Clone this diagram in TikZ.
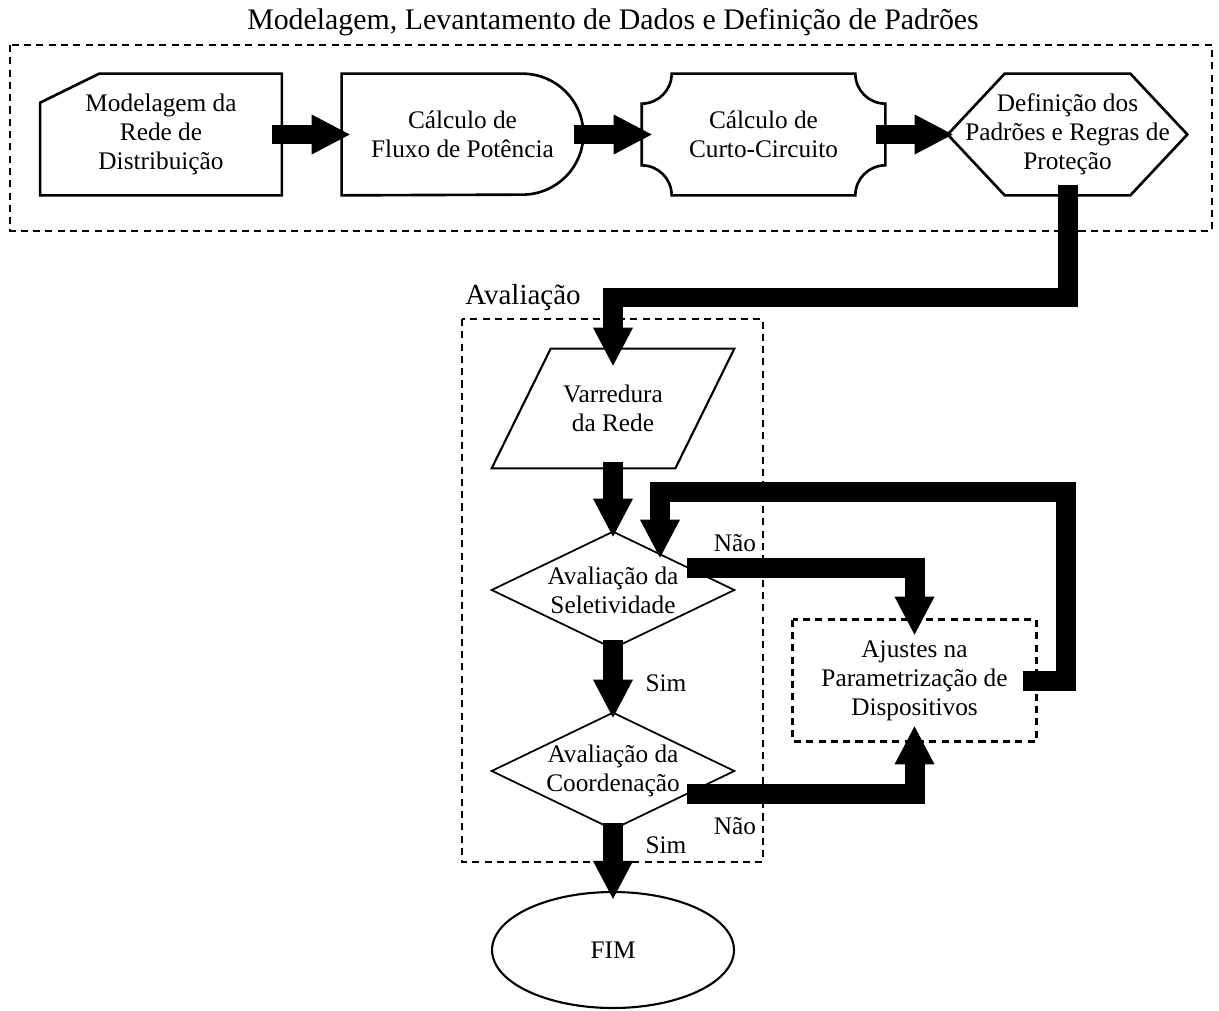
\documentclass[tikz,border=0pt]{standalone}
\usepackage{fontspec}
\setmainfont{Liberation Serif}
\usetikzlibrary{arrows.meta,shapes.geometric,positioning}

\tikzset{
    texto/.style={align=center, font=\fontsize{14.4}{16.5}\selectfont, inner sep=0pt},
    contorno/.style={draw, line width=1.5pt, line join=miter},
    fino/.style={draw, line width=1pt},
    grupo/.style={draw, line width=1.6pt, dash pattern=on 4pt off 3pt},
    setagrossa/.style={line width=0.4cm, -{Triangle[length=0.76cm,width=0.8cm,line width=0pt]}},
    rotulo/.style={font=\fontsize{14.4}{16.5}\selectfont, inner sep=0pt},
}

\begin{document}
\begin{tikzpicture}[x=0.02cm, y=-0.02cm]
    \useasboundingbox (0,0) rectangle (1219,1010);

    % Grupo: modelagem e levantamento de dados
    \node[font=\fontsize{17}{20}\selectfont] (titulo) at (613,22) {Modelagem, Levantamento de Dados e Definição de Padrões};
    \draw[grupo] (10,45) rectangle (1212,231);

    \node[texto, minimum width=4.82cm, minimum height=2.42cm] (modelo) at (161,134.5) {Modelagem da\\Rede de\\Distribuição};
    \draw[contorno] ([yshift=-0.58cm]modelo.north west) -- ([xshift=1.18cm]modelo.north west) -- (modelo.north east)
        -- (modelo.south east) -- (modelo.south west) -- cycle;

    \node[texto, minimum width=4.82cm, minimum height=2.42cm] (fluxo) at (462.5,134.5) {Cálculo de\\Fluxo de Potência};
    \draw[contorno] (fluxo.north west) -- ([xshift=-1.22cm]fluxo.north east)
        arc[start angle=90, end angle=-90, x radius=1.22cm, y radius=1.21cm] -- (fluxo.south west) -- cycle;

    \node[texto, minimum width=4.86cm, minimum height=2.42cm] (curto) at (763.5,134.5) {Cálculo de\\Curto-Circuito};
    \draw[contorno] ([xshift=0.6cm]curto.north west) -- ([xshift=-0.6cm]curto.north east) arc (180:270:0.6cm)
        -- ([yshift=0.6cm]curto.south east) arc (90:180:0.6cm)
        -- ([xshift=0.6cm]curto.south west) arc (0:90:0.6cm)
        -- ([yshift=-0.6cm]curto.north west) arc (270:360:0.6cm) -- cycle;

    \node[texto, minimum width=4.78cm, minimum height=2.42cm] (regras) at (1067.5,134.5) {Definição dos\\Padrões e Regras de\\Proteção};
    \draw[contorno] (regras.west) -- ([xshift=1.14cm]regras.north west) -- ([xshift=-1.14cm]regras.north east)
        -- (regras.east) -- ([xshift=-1.14cm]regras.south east) -- ([xshift=1.14cm]regras.south west) -- cycle;

    \draw[setagrossa] ([xshift=-0.2cm]modelo.east) -- ([xshift=0.16cm]fluxo.west);
    \draw[setagrossa] ([xshift=-0.18cm]fluxo.east) -- ([xshift=0.2cm]curto.west);
    \draw[setagrossa] ([xshift=-0.18cm]curto.east) -- ([xshift=0.1cm]regras.west);

    % Grupo: avaliacao
    \node[font=\fontsize{16.5}{20}\selectfont] (avaliacao) at (523,298) {Avaliação};
    \draw[grupo] (462,319) rectangle (763,862);

    \node[texto, minimum width=4.84cm, minimum height=2.38cm] (varredura) at (613,408.5) {Varredura\\da Rede};
    \draw[contorno, line width=1.2pt] ([xshift=1.18cm]varredura.north west) -- (varredura.north east)
        -- ([xshift=-1.18cm]varredura.south east) -- (varredura.south west) -- cycle;

    \node[texto, minimum width=4.84cm, minimum height=2.32cm] (selet) at (613,590) {Avaliação da\\Seletividade};
    \draw[fino] (selet.north) -- (selet.east) -- (selet.south) -- (selet.west) -- cycle;

    \node[texto, minimum width=4.84cm, minimum height=2.32cm] (coord) at (613,771) {Avaliação da\\Coordenação};
    \draw[fino] (coord.north) -- (coord.east) -- (coord.south) -- (coord.west) -- cycle;

    \node[texto, ellipse, draw, line width=1.2pt, minimum width=4.84cm, minimum height=2.32cm] (fim) at (613,950) {FIM};

    \node[texto, minimum width=4.86cm, minimum height=2.42cm] (ajuste) at (914.5,680.5) {Ajustes na\\Parametrização de\\Dispositivos};
    \draw[grupo] (ajuste.north west) rectangle (ajuste.south east);

    % Rotulos das decisoes
    \node[rotulo] (nao1) at (735,543) {Não};
    \node[rotulo] (sim1) at (666,683) {Sim};
    \node[rotulo] (nao2) at (735,826) {Não};
    \node[rotulo] (sim2) at (666,845) {Sim};

    % Conexoes
    \coordinate (dobra1) at (1067.5,297.5);
    \coordinate (volta) at (1066,492);
    \draw[setagrossa] ([yshift=0.2cm]regras.south) -- (dobra1) -| ([yshift=-0.34cm]varredura.north);
    \draw[setagrossa] ([yshift=0.12cm]varredura.south) -- ([yshift=-0.1cm]selet.north);
    \draw[setagrossa] ([yshift=0.16cm]selet.south) -- ([yshift=-0.1cm]coord.north);
    \draw[setagrossa] ([yshift=0.12cm]coord.south) -- ([yshift=-0.16cm]fim.north);
    \draw[setagrossa] ([xshift=-0.94cm,yshift=0.44cm]selet.east) -| ([yshift=-0.3cm]ajuste.north);
    \draw[setagrossa] ([xshift=-0.94cm,yshift=-0.46cm]coord.east) -| ([yshift=0.3cm]ajuste.south);
    \draw[setagrossa] ([xshift=-0.26cm]ajuste.east) -| (volta) -| ([xshift=0.94cm,yshift=-0.52cm]selet.north);

\end{tikzpicture}
\end{document}
